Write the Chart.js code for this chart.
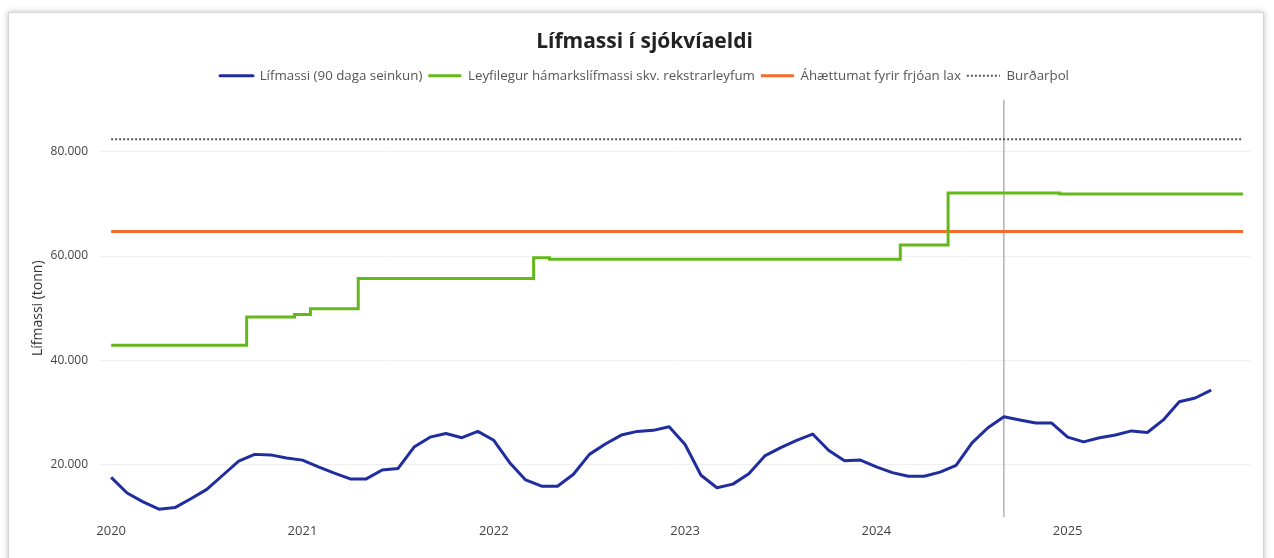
<!DOCTYPE html>
<html>
<head>
<meta charset="utf-8">
<script src="https://cdn.jsdelivr.net/npm/chart.js@4/dist/chart.umd.min.js"></script>
<style>
    html, body { margin: 0; padding: 0; background: #fff; }
    #card {
        position: absolute; left: 8px; top: 12px; width: 1254px; height: 560px;
        border: 1px solid #d6d6d6; box-shadow: 0 0 6px rgba(0,0,0,0.25); background: #fff;
    }
    #wrap { position: absolute; left: 0; top: 0; width: 1274px; height: 558px; }
</style>
</head>
<body>
<div id="card"></div>
<div id="wrap"><canvas id="chart"></canvas></div>
<script>
    'use strict';

    // x = mánuðir frá jan 2020
    const yearLabels = ['2020', '2021', '2022', '2023', '2024', '2025'];
    const yearTicks = [0, 12, 24, 36, 48, 60];
    const yTicks = [20000, 40000, 60000, 80000];

    const lifmassi = [
        17600, 14600, 12900, 11500, 11800, 13500, 15300, 18000, 20700, 22000, 21900, 21300,
        20900, 19600, 18400, 17300, 17300, 19000, 19300, 23400, 25300, 26000, 25200, 26400,
        24700, 20400, 17100, 15900, 15900, 18200, 22000, 24000, 25700, 26400, 26600, 27300,
        23900, 18000, 15600, 16300, 18300, 21700, 23300, 24700, 25900, 22800, 20800, 20900,
        19600, 18500, 17800, 17800, 18600, 19900, 24200, 27100, 29200, 28600, 28000, 28000,
        25300, 24400, 25200, 25700, 26500, 26200, 28600, 32100, 32800, 34300
    ];

    const leyfiMonths = [0, 8.5, 11.5, 12.5, 15.5, 26.5, 27.5, 49.5, 52.5, 59.5, 71];
    const leyfiValues = [42900, 48300, 48800, 49900, 55700, 59700, 59400, 62100, 72100, 71900, 71900];

    const lineMonths = [0, 71];
    const ahaettumat = [64700, 64700];
    const burdarthol = [82400, 82400];

    const markerMonth = 56;
    const markerRange = [10000, 90000];

    const fontFam = '"Open Sans", "Noto Sans", sans-serif';

    function fmt(v) {
        return String(v).replace(/\B(?=(\d{3})+(?!\d))/g, '.');
    }

    // auka bil undir skýringum
    const legendPad = {
        id: 'legendPad',
        beforeInit(chart) {
            const orig = chart.legend.fit;
            chart.legend.fit = function () {
                orig.bind(chart.legend)();
                this.height += 7;
            };
        }
    };

    const ctx = document.getElementById('chart');
    new Chart(ctx, {
        type: 'line',
        data: {
            datasets: [
                {
                    label: 'Lífmassi (90 daga seinkun)',
                    data: lifmassi.map((v, i) => ({ x: i, y: v })),
                    borderColor: '#1f2d9e',
                    backgroundColor: '#1f2d9e',
                    borderWidth: 3,
                    pointRadius: 0,
                    tension: 0,
                    borderJoinStyle: 'round',
                    order: 1
                },
                {
                    label: 'Leyfilegur hámarkslífmassi skv. rekstrarleyfum',
                    data: leyfiMonths.map((m, i) => ({ x: m, y: leyfiValues[i] })),
                    borderColor: '#64b91a',
                    backgroundColor: '#64b91a',
                    borderWidth: 3,
                    pointRadius: 0,
                    stepped: true,
                    order: 2
                },
                {
                    label: 'Áhættumat fyrir frjóan lax',
                    data: lineMonths.map((m, i) => ({ x: m, y: ahaettumat[i] })),
                    borderColor: '#f46b2e',
                    backgroundColor: '#f46b2e',
                    borderWidth: 3,
                    pointRadius: 0,
                    order: 3
                },
                {
                    label: 'Burðarþol',
                    data: lineMonths.map((m, i) => ({ x: m, y: burdarthol[i] })),
                    borderColor: '#555555',
                    backgroundColor: '#555555',
                    borderWidth: 2,
                    borderDash: [2, 2],
                    pointRadius: 0,
                    order: 4
                },
                {
                    label: 'marker',
                    data: markerRange.map(v => ({ x: markerMonth, y: v })),
                    borderColor: '#8a8a8a',
                    borderWidth: 1,
                    pointRadius: 0,
                    order: 5
                }
            ]
        },
        options: {
            responsive: true,
            maintainAspectRatio: false,
            animation: false,
            layout: { padding: { left: 38, right: 23, top: 0, bottom: 0 } },
            plugins: {
                title: {
                    display: true,
                    text: 'Lífmassi í sjókvíaeldi',
                    color: '#222',
                    font: { family: fontFam, size: 21, weight: 'bold' },
                    padding: { top: 29, bottom: 9 }
                },
                legend: {
                    position: 'top',
                    labels: {
                        boxWidth: 33,
                        boxHeight: 0,
                        padding: 6,
                        color: '#555',
                        font: { family: fontFam, size: 13.3 },
                        filter: item => item.text !== 'marker'
                    }
                },
                tooltip: { enabled: false }
            },
            scales: {
                x: {
                    type: 'linear',
                    min: -0.7,
                    max: 71.5,
                    grid: { display: false, drawTicks: false },
                    border: { display: false },
                    afterBuildTicks: s => { s.ticks = yearTicks.map(v => ({ value: v })); },
                    afterFit: s => { s.height = 41; },
                    ticks: {
                        padding: 6,
                        autoSkip: false,
                        maxRotation: 0,
                        color: '#444',
                        font: { family: fontFam, size: 13 },
                        callback: v => yearLabels[yearTicks.indexOf(v)]
                    }
                },
                y: {
                    min: 10000,
                    max: 90000,
                    grid: { color: '#f0f0f0', drawTicks: false },
                    border: { display: false },
                    afterBuildTicks: s => { s.ticks = yTicks.map(v => ({ value: v })); },
                    afterFit: s => { s.width = 62; },
                    ticks: {
                        padding: 12,
                        color: '#444',
                        font: { family: fontFam, size: 12 },
                        callback: v => fmt(v)
                    },
                    title: {
                        display: true,
                        text: 'Lífmassi (tonn)',
                        color: '#333',
                        font: { family: fontFam, size: 14 },
                        padding: { top: -8, bottom: 0 }
                    }
                }
            }
        },
        plugins: [legendPad]
    });
</script>
</body>
</html>
